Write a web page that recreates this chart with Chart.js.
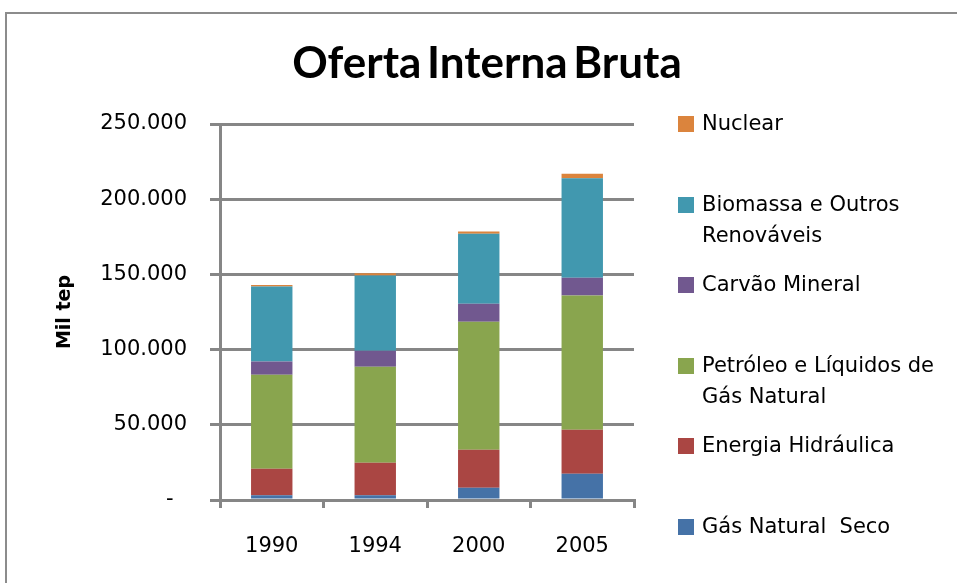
<!DOCTYPE html>
<html>
<head>
<meta charset="utf-8">
<script src="https://cdn.jsdelivr.net/npm/chart.js@4.4.1/dist/chart.umd.min.js"></script>
<style>
    html, body { margin: 0; padding: 0; background: #fff; }
    #wrap { position: relative; width: 957px; height: 583px; overflow: hidden; }
    #frame { position: absolute; left: 5px; top: 12px; width: 1000px; height: 700px; border: 2px solid #8c8c8c; box-sizing: border-box; }
    #chart { position: absolute; left: 0; top: 0; }
    #title { position: absolute; left: 0; width: 974px; top: 35px; text-align: center; font: bold 44px Lato, sans-serif; line-height: 52.8px; color: #000; word-spacing: -5px; }
    .legend-item { position: absolute; left: 678px; width: 270px; font: 21px "DejaVu Sans", sans-serif; line-height: 31px; color: #000; }
    .legend-box { position: absolute; left: 0; top: 8px; width: 16px; height: 16px; }
    .legend-text { position: absolute; left: 24px; width: 250px; white-space: pre-wrap; }
</style>
</head>
<body>
<div id="wrap">
    <div id="frame"></div>
    <canvas id="chart" width="957" height="583"></canvas>
    <div id="title">Oferta Interna Bruta</div>
    <div id="legend"></div>
</div>
<script>
// ========== DATA ==========
const years = ['1990', '1994', '2000', '2005'];
const gasNatural = [3200, 3200, 8100, 17400];
const hidraulica = [17500, 21500, 25300, 29300];
const petroleo = [62600, 63900, 85100, 89300];
const carvao = [8800, 10600, 12000, 11800];
const biomassa = [49800, 50000, 46500, 66200];
const nuclear = [1100, 1600, 1500, 2900];
const yTicks = [0, 50000, 100000, 150000, 200000, 250000];

// bottom of stack first
const seriesNames = ['Gás Natural  Seco', 'Energia Hidráulica', 'Petróleo e Líquidos de Gás Natural', 'Carvão Mineral', 'Biomassa e Outros Renováveis', 'Nuclear'];
const seriesData = [gasNatural, hidraulica, petroleo, carvao, biomassa, nuclear];
const seriesColors = ['#4572A7', '#AA4643', '#89A54E', '#71588F', '#4198AF', '#DB843D'];

const axisGray = '#868686';

// ========== HELPERS ==========
function fmt(v) {
    if (v === 0) return '-  ';
    return String(v).replace(/\B(?=(\d{3})+(?!\d))/g, '.');
}

// ========== LEGEND ==========
function renderLegend() {
    const legend = document.getElementById('legend');
    // legend lists top of stack first
    const order = seriesNames.map((_, i) => i).reverse();
    legend.innerHTML = order.map((idx, row) => `
        <div class="legend-item" style="top:${108 + row * 80.5}px">
            <div class="legend-box" style="background:${seriesColors[idx]}"></div>
            <div class="legend-text">${seriesNames[idx]}</div>
        </div>`).join('');
}

// ========== CHART ==========
function initChart() {
    const ctx = document.getElementById('chart').getContext('2d');
    new Chart(ctx, {
        type: 'bar',
        data: {
            labels: years,
            datasets: seriesNames.map((name, i) => ({
                label: name,
                data: seriesData[i],
                backgroundColor: seriesColors[i],
                borderWidth: 0,
                barPercentage: 0.4,
                categoryPercentage: 1
            }))
        },
        options: {
            responsive: false,
            animation: false,
            layout: { padding: { left: 50, right: 323, top: 124, bottom: 0 } },
            plugins: {
                legend: { display: false },
                title: { display: false },
                tooltip: { enabled: false }
            },
            scales: {
                x: {
                    stacked: true,
                    afterFit: s => { s.height = 83; },
                    grid: { drawOnChartArea: false, drawTicks: true, tickLength: 8, color: axisGray, lineWidth: 3 },
                    border: { display: true, color: axisGray, width: 3 },
                    ticks: { color: '#000', padding: 26, font: { family: 'DejaVu Sans', size: 21 } }
                },
                y: {
                    stacked: true,
                    min: 0,
                    max: 250000,
                    afterFit: s => { s.width = 170; },
                    afterBuildTicks: s => { s.ticks = yTicks.map(v => ({ value: v })); },
                    grid: { color: axisGray, lineWidth: 3, tickLength: 10, drawTicks: true },
                    border: { display: true, color: axisGray, width: 3 },
                    ticks: { color: '#000', padding: 23, font: { family: 'DejaVu Sans', size: 21 }, callback: v => fmt(v) },
                    title: { display: true, text: 'Mil tep', color: '#000', padding: 4, font: { family: 'DejaVu Sans', size: 19, weight: 'bold' } }
                }
            }
        }
    });
}

// ========== INIT ==========
document.addEventListener('DOMContentLoaded', () => {
    renderLegend();
    initChart();
});
</script>
</body>
</html>
